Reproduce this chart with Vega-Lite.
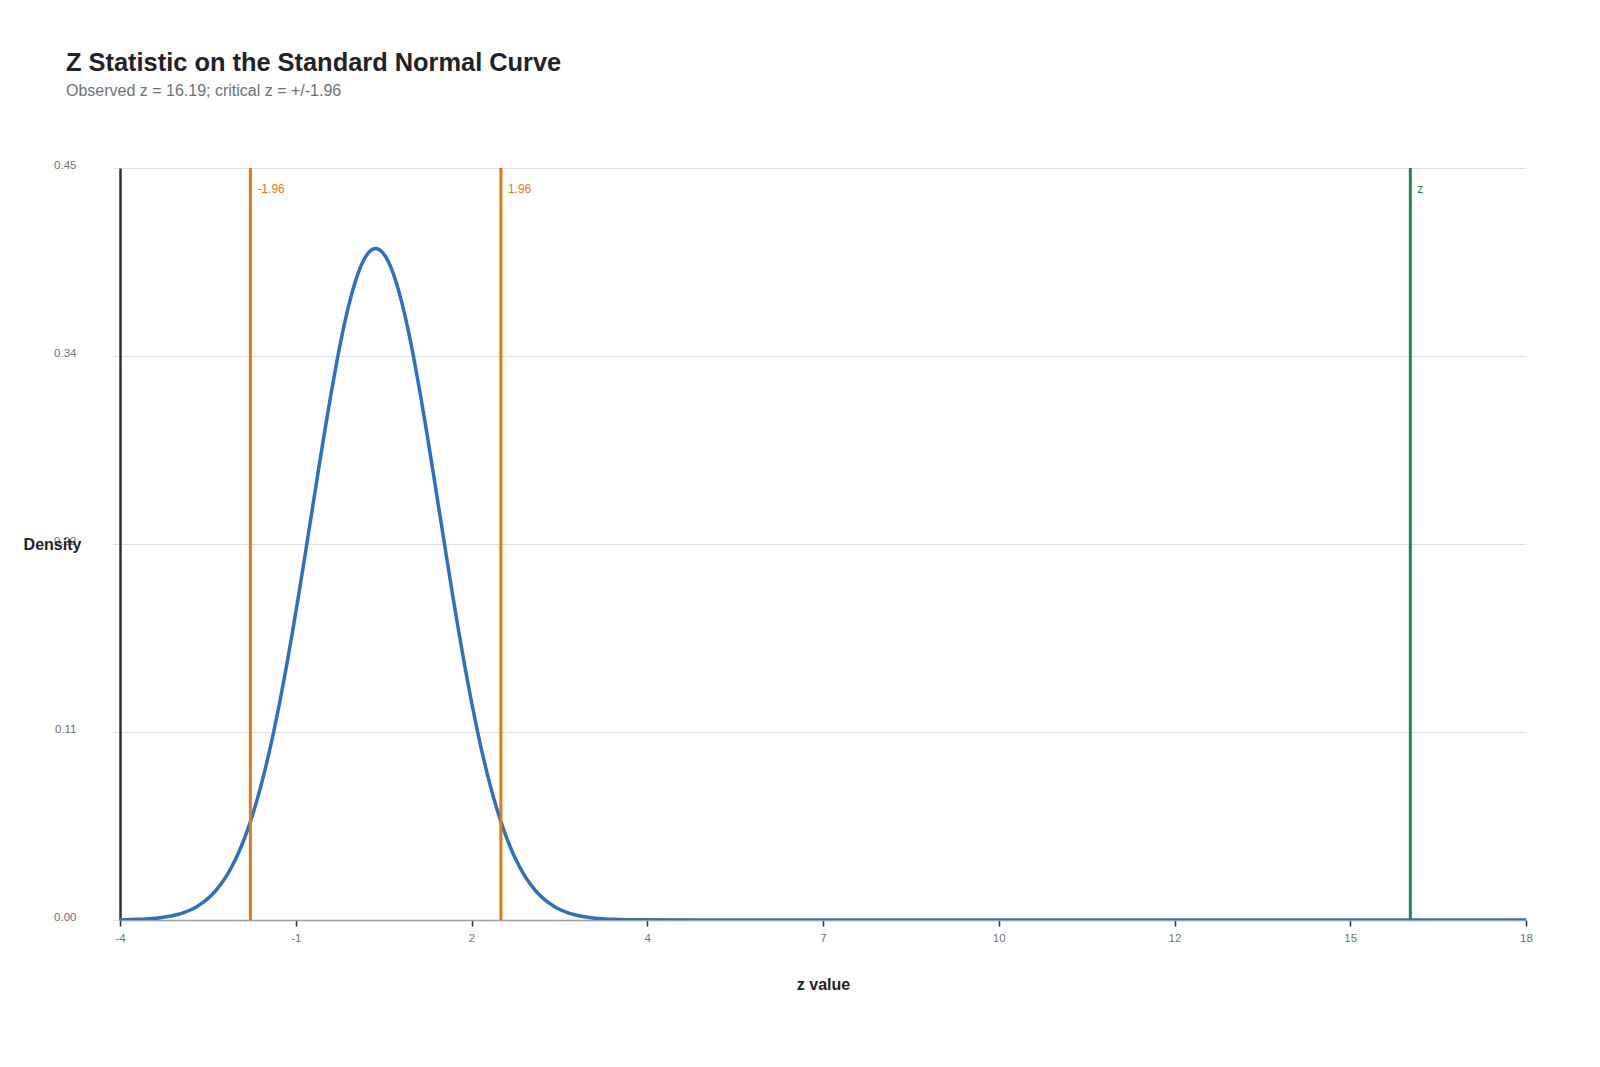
{
  "$schema": "https://vega.github.io/schema/vega-lite/v6.json",
  "width": 1406,
  "height": 752,
  "autosize": {"type": "none"},
  "padding": {"left": 120, "top": 168, "right": 74, "bottom": 147},
  "background": "white",
  "title": {
    "text": "Z Statistic on the Standard Normal Curve",
    "subtitle": "Observed z = 16.19; critical z = +/-1.96",
    "anchor": "start",
    "frame": "group",
    "dx": -54,
    "offset": 60,
    "font": "Liberation Sans",
    "fontSize": 25.4,
    "fontWeight": "bold",
    "color": "#1f2328",
    "subtitleFont": "Liberation Sans",
    "subtitleFontSize": 16,
    "subtitleColor": "#6b7280",
    "subtitlePadding": 7
  },
  "datasets": {
    "curve": [
      {"z": -4.0, "density": 0.00013}, {"z": -3.9, "density": 0.0002}, {"z": -3.8, "density": 0.00029},
      {"z": -3.7, "density": 0.00042}, {"z": -3.6, "density": 0.00061}, {"z": -3.5, "density": 0.00087},
      {"z": -3.4, "density": 0.00123}, {"z": -3.3, "density": 0.00172}, {"z": -3.2, "density": 0.00238},
      {"z": -3.1, "density": 0.00327}, {"z": -3.0, "density": 0.00443}, {"z": -2.9, "density": 0.00595},
      {"z": -2.8, "density": 0.00792}, {"z": -2.7, "density": 0.01042}, {"z": -2.6, "density": 0.01358},
      {"z": -2.5, "density": 0.01753}, {"z": -2.4, "density": 0.02239}, {"z": -2.3, "density": 0.02833},
      {"z": -2.2, "density": 0.03547}, {"z": -2.1, "density": 0.04398}, {"z": -2.0, "density": 0.05399},
      {"z": -1.9, "density": 0.06562}, {"z": -1.8, "density": 0.07895}, {"z": -1.7, "density": 0.09405},
      {"z": -1.6, "density": 0.11092}, {"z": -1.5, "density": 0.12952}, {"z": -1.4, "density": 0.14973},
      {"z": -1.3, "density": 0.17137}, {"z": -1.2, "density": 0.19419}, {"z": -1.1, "density": 0.21785},
      {"z": -1.0, "density": 0.24197}, {"z": -0.9, "density": 0.26609}, {"z": -0.8, "density": 0.28969},
      {"z": -0.7, "density": 0.31225}, {"z": -0.6, "density": 0.33322}, {"z": -0.5, "density": 0.35207},
      {"z": -0.4, "density": 0.36827}, {"z": -0.3, "density": 0.38139}, {"z": -0.2, "density": 0.39104},
      {"z": -0.1, "density": 0.39695}, {"z": 0.0, "density": 0.39894}, {"z": 0.1, "density": 0.39695},
      {"z": 0.2, "density": 0.39104}, {"z": 0.3, "density": 0.38139}, {"z": 0.4, "density": 0.36827},
      {"z": 0.5, "density": 0.35207}, {"z": 0.6, "density": 0.33322}, {"z": 0.7, "density": 0.31225},
      {"z": 0.8, "density": 0.28969}, {"z": 0.9, "density": 0.26609}, {"z": 1.0, "density": 0.24197},
      {"z": 1.1, "density": 0.21785}, {"z": 1.2, "density": 0.19419}, {"z": 1.3, "density": 0.17137},
      {"z": 1.4, "density": 0.14973}, {"z": 1.5, "density": 0.12952}, {"z": 1.6, "density": 0.11092},
      {"z": 1.7, "density": 0.09405}, {"z": 1.8, "density": 0.07895}, {"z": 1.9, "density": 0.06562},
      {"z": 2.0, "density": 0.05399}, {"z": 2.1, "density": 0.04398}, {"z": 2.2, "density": 0.03547},
      {"z": 2.3, "density": 0.02833}, {"z": 2.4, "density": 0.02239}, {"z": 2.5, "density": 0.01753},
      {"z": 2.6, "density": 0.01358}, {"z": 2.7, "density": 0.01042}, {"z": 2.8, "density": 0.00792},
      {"z": 2.9, "density": 0.00595}, {"z": 3.0, "density": 0.00443}, {"z": 3.1, "density": 0.00327},
      {"z": 3.2, "density": 0.00238}, {"z": 3.3, "density": 0.00172}, {"z": 3.4, "density": 0.00123},
      {"z": 3.5, "density": 0.00087}, {"z": 3.6, "density": 0.00061}, {"z": 3.7, "density": 0.00042},
      {"z": 3.8, "density": 0.00029}, {"z": 3.9, "density": 0.0002}, {"z": 4.0, "density": 0.00013},
      {"z": 5.0, "density": 0.0}, {"z": 6.0, "density": 0.0}, {"z": 7.0, "density": 0.0},
      {"z": 8.0, "density": 0.0}, {"z": 9.0, "density": 0.0}, {"z": 10.0, "density": 0.0},
      {"z": 11.0, "density": 0.0}, {"z": 12.0, "density": 0.0}, {"z": 13.0, "density": 0.0},
      {"z": 14.0, "density": 0.0}, {"z": 15.0, "density": 0.0}, {"z": 16.0, "density": 0.0},
      {"z": 17.0, "density": 0.0}, {"z": 18.0, "density": 0.0}
    ],
    "marks": [
      {"z": -1.96, "label": "-1.96", "kind": "critical low"},
      {"z": 1.96, "label": "1.96", "kind": "critical high"},
      {"z": 16.19, "label": "z", "kind": "observed"}
    ]
  },
  "layer": [
    {
      "data": {"name": "curve"},
      "mark": {"type": "line", "color": "#2f6fc0", "strokeWidth": 3.5, "interpolate": "monotone", "clip": true},
      "encoding": {
        "x": {
          "field": "z", "type": "quantitative",
          "scale": {"domain": [-4, 18], "nice": false, "zero": false},
          "axis": {
            "title": "z value",
            "values": [-4, -1.25, 1.5, 4.25, 7, 9.75, 12.5, 15.25, 18],
            "labelExpr": "datum.value == 12.5 ? '12' : '' + round(datum.value)",
            "grid": false,
            "domainColor": "#9aa0a6",
            "domainWidth": 1.5,
            "tickColor": "#2b2f36",
            "tickWidth": 1.5,
            "tickSize": 6,
            "labelPadding": 6,
            "labelColor": "#6b7280",
            "labelFont": "Liberation Sans",
            "labelFontSize": 11.5,
            "labelFlush": false,
            "titleFont": "Liberation Sans",
            "titleFontSize": 16,
            "titleFontWeight": "bold",
            "titleColor": "#1f2328",
            "titlePadding": 33
          }
        },
        "y": {
          "field": "density", "type": "quantitative",
          "scale": {"domain": [0, 0.4468], "nice": false},
          "axis": {
            "title": "Density",
            "values": [0, 0.1117, 0.2234, 0.3351, 0.4468],
            "format": ".2f",
            "grid": true,
            "gridColor": "#dcdfe3",
            "gridWidth": 1,
            "domainColor": "#2b2f36",
            "domainWidth": 2.5,
            "tickColor": "#dcdfe3",
            "tickSize": 7,
            "labelPadding": 37,
            "labelBaseline": "alphabetic",
            "labelColor": "#6b7280",
            "labelFont": "Liberation Sans",
            "labelFontSize": 11.5,
            "titleAngle": 0,
            "titleX": -68,
            "titleY": 376,
            "titleAlign": "center",
            "titleBaseline": "middle",
            "titleFont": "Liberation Sans",
            "titleFontSize": 16,
            "titleFontWeight": "bold",
            "titleColor": "#1f2328"
          }
        }
      }
    },
    {
      "data": {"name": "marks"},
      "mark": {"type": "rule", "strokeWidth": 3},
      "encoding": {
        "x": {"field": "z", "type": "quantitative"},
        "color": {
          "field": "kind", "type": "nominal", "legend": null,
          "scale": {"domain": ["critical low", "critical high", "observed"], "range": ["#e47a0c", "#e47a0c", "#228452"]}
        }
      }
    },
    {
      "data": {"name": "marks"},
      "mark": {"type": "text", "align": "left", "baseline": "middle", "dx": 7, "dy": 21, "font": "Liberation Sans", "fontSize": 12},
      "encoding": {
        "x": {"field": "z", "type": "quantitative"},
        "y": {"datum": 0.4468},
        "text": {"field": "label"},
        "color": {"field": "kind", "type": "nominal", "legend": null}
      }
    }
  ],
  "config": {"view": {"stroke": null}}
}
